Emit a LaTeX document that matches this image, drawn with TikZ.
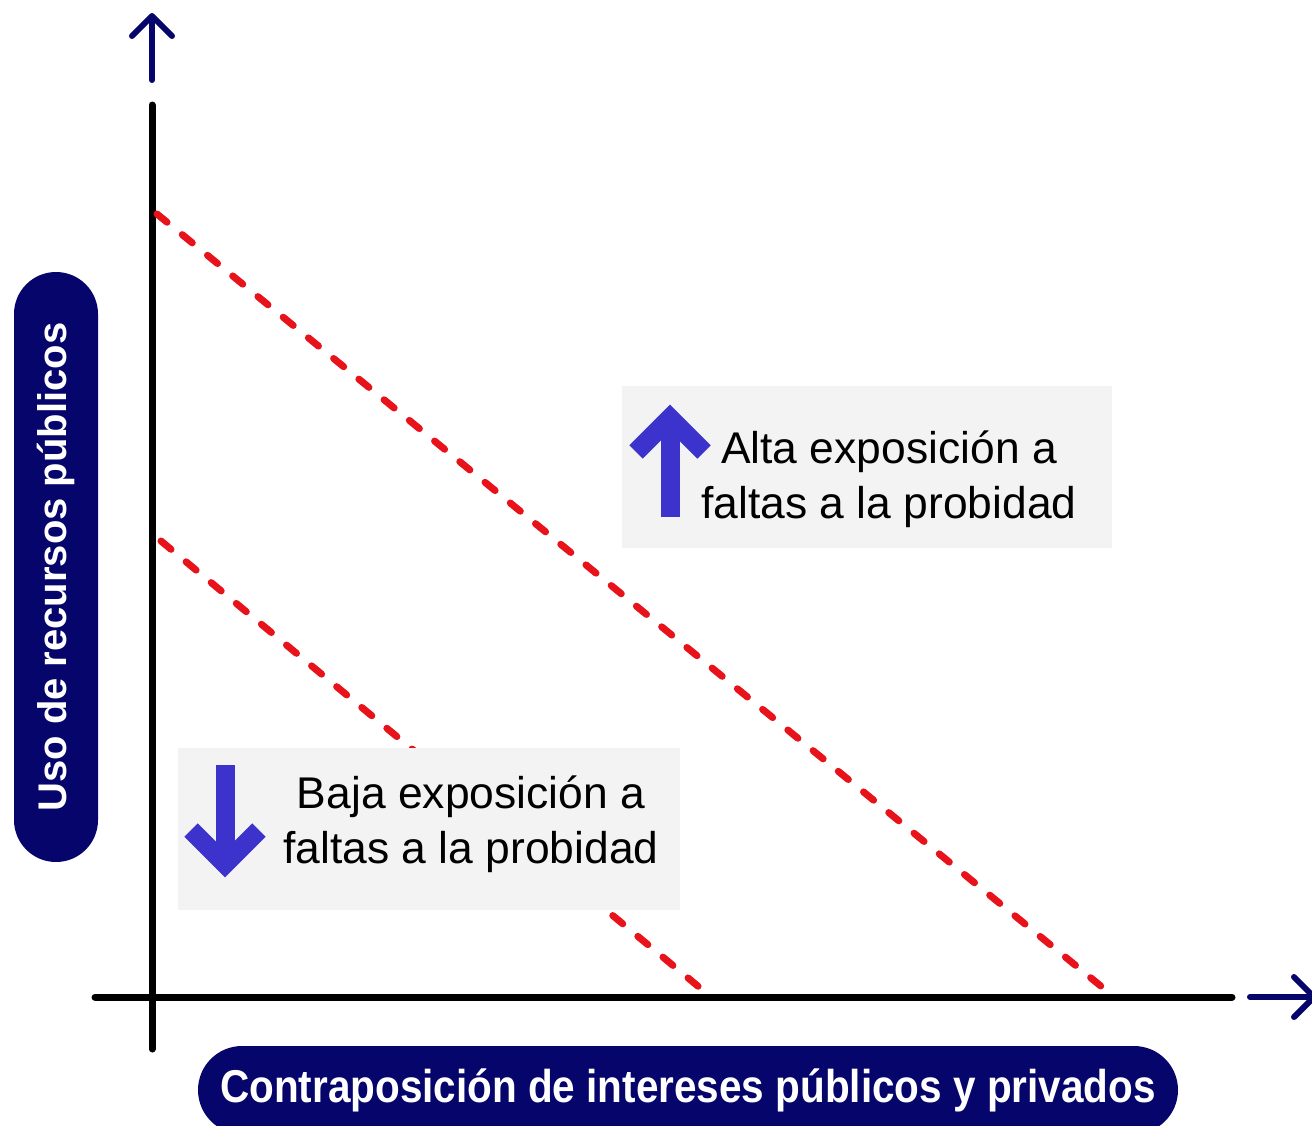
\documentclass[tikz,border=0pt]{standalone}
\usepackage{fontspec}
\setmainfont{Liberation Sans}
\usetikzlibrary{arrows.meta,positioning}

\definecolor{axisnavy}{RGB}{5,5,108}
\definecolor{arrowblue}{RGB}{59,51,204}
\definecolor{dashred}{RGB}{232,18,26}
\definecolor{boxgray}{RGB}{243,243,243}

\begin{document}
\begin{tikzpicture}[
  x=0.5pt, y=-0.5pt,
  pill/.style={fill=axisnavy, text=white, inner sep=0pt, font=\fontsize{20}{20}\selectfont\bfseries},
  expbox/.style={fill=boxgray, inner sep=0pt, minimum height=81pt},
  exptext/.style={align=center, inner sep=0pt, font=\fontsize{22.2}{27.5}\selectfont},
  axisline/.style={line width=3.5pt, line cap=round},
  navyarrow/.style={draw=axisnavy, line width=3pt, line cap=round,
    -{Straight Barb[length=10pt,width=20pt,line cap=round,line join=round]}},
  riskline/.style={draw=dashred, line width=3.5pt, line cap=round, dash pattern=on 6.5pt off 9.8pt},
  blockarrow/.style={draw=arrowblue, line width=9.5pt, line join=miter}
]
  \useasboundingbox (0,0) rectangle (1312,1125);

  \coordinate (origin) at (152,997);
  \coordinate (ytop) at (152,105);
  \coordinate (ybot) at (152,1049);
  \coordinate (xleft) at (95,997);
  \coordinate (xright) at (1232,997);
  \draw[axisline] (ybot) -- (ytop);
  \draw[axisline] (xleft) -- (xright);

  \coordinate (ybase) at (152,80);
  \coordinate (ytip) at (152,13);
  \coordinate (xbase) at (1250,997);
  \coordinate (xtip) at (1317,997);
  \draw[navyarrow] (ybase) -- (ytip);
  \draw[navyarrow] (xbase) -- (xtip);

  \coordinate (hiStart) at (157,214);
  \coordinate (hiEnd) at (1102,987);
  \coordinate (loStart) at (161,541);
  \coordinate (loEnd) at (705,992);
  \draw[riskline] (hiStart) -- (hiEnd);
  \draw[riskline] (loStart) -- (loEnd);

  \node (altabox) [expbox, minimum width=245pt] at (867,467) {};
  \node (bajabox) [expbox, minimum width=251pt] at (429,828.5) {};

  \draw[blockarrow] (670,517) -- (670,418);
  \draw[blockarrow] (636,452) -- (670,418) -- (704,452);
  \draw[blockarrow] (225,765) -- (225,864);
  \draw[blockarrow] (191,830) -- (225,864) -- (259,830);

  \node (altatxt) [exptext] at (889,479) {Alta exposición a\\faltas a la probidad};
  \node (bajatxt) [exptext] at (471,824) {Baja exposición a\\faltas a la probidad};

  \node (ylabel) [pill, rotate=90, minimum width=295pt, minimum height=42pt, rounded corners=21pt]
    at (56,567) {Uso de recursos públicos};
  \node (xlabel) [pill, minimum width=490pt, minimum height=44pt, rounded corners=22pt]
    at (688,1090) {\scalebox{0.88}[1]{\fontsize{23}{23}\selectfont\bfseries Contraposición de intereses públicos y privados}};
\end{tikzpicture}
\end{document}
